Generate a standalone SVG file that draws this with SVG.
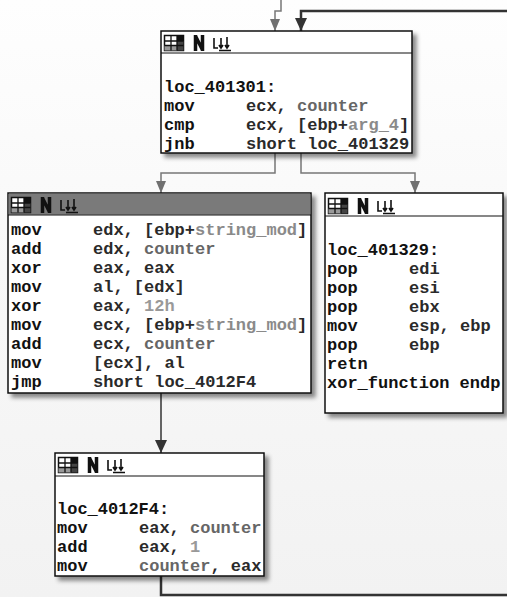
<svg xmlns="http://www.w3.org/2000/svg" width="507" height="597" viewBox="0 0 507 597">
<defs>
<linearGradient id="bg" x1="0" y1="0" x2="0" y2="1">
<stop offset="0" stop-color="#fefefe"/>
<stop offset="0.45" stop-color="#f8f8f8"/>
<stop offset="1" stop-color="#f2f2f2"/>
</linearGradient>
<filter id="sh" x="-10%" y="-10%" width="130%" height="130%">
<feDropShadow dx="4" dy="4" stdDeviation="2" flood-color="#000" flood-opacity="0.45"/>
</filter>
<marker id="ag" viewBox="0 0 10 12" refX="5" refY="12" markerWidth="10" markerHeight="12" markerUnits="userSpaceOnUse" orient="0">
<path d="M0,0 L10,0 L5,12 z" fill="#707070"/>
</marker>
<marker id="ad" viewBox="0 0 12 13" refX="6" refY="13" markerWidth="12" markerHeight="13" markerUnits="userSpaceOnUse" orient="0">
<path d="M0,0 L12,0 L6,13 z" fill="#333"/>
</marker>
<g id="icons">
<rect x="0.5" y="0.5" width="19" height="15" fill="#fff" stroke="#111" stroke-width="1.5"/>
<rect x="13" y="0.5" width="6.5" height="5.5" fill="#111"/>
<rect x="0.5" y="10.5" width="12.5" height="5" fill="#999"/>
<rect x="13" y="6" width="6.5" height="9.5" fill="#444"/>
<path d="M7,0.5 V15.5 M13,0.5 V15.5 M0.5,6 H19.5 M0.5,10.5 H19.5" stroke="#111" stroke-width="1.3" fill="none"/>
<path d="M31.5,0 V16 M31.5,1 L38.5,15 M38.5,0 V16" stroke="#111" stroke-width="3.5" fill="none"/>
<path d="M50,3 V13 H54 M57,3 V13 M55,10 L57,13 L59,10 M63,2 V13 M61,10 L63,13 L65,10 M55,15.5 H67" stroke="#111" stroke-width="1.6" fill="none"/>
</g>
</defs>
<style>
text{font-family:"Liberation Mono","DejaVu Sans Mono",monospace;font-size:17px;font-weight:bold;fill:#111}
.r{fill:#2a2a2a}
.n{fill:#666}
.v{fill:#8a8a8a}
.k{fill:#999}
.box{fill:#fff;stroke:#111;stroke-width:1.5}
.hl{stroke:#111;stroke-width:1.2}
.cg{fill:none;stroke:#777;stroke-width:1.5}
.cd{fill:none;stroke:#333;stroke-width:2.5}
.cd1{fill:none;stroke:#333;stroke-width:1.5}
</style>
<rect x="0" y="0" width="507" height="597" fill="url(#bg)"/>

<g id="connectors">
<path class="cg" d="M281,0 V11 H275 V31" marker-end="url(#ag)"/>
<path class="cd" d="M507,11 H301 V31" marker-end="url(#ad)"/>
<path class="cg" d="M275,153 V173 H161 V193" marker-end="url(#ag)"/>
<path class="cg" d="M301,153 V173 H415 V193" marker-end="url(#ag)"/>
<path class="cd1" d="M161,393 V453" marker-end="url(#ad)"/>
<path class="cd" d="M161,576 V595 H507"/>
</g>

<g id="loc_401301">
<rect class="box" x="161" y="31" width="251" height="122" filter="url(#sh)"/>
<line class="hl" x1="161" y1="53" x2="412" y2="53"/>
<use href="#icons" x="164" y="35"/>
<text x="164" y="92">loc_401301:</text>
<text x="164" y="111">mov<tspan x="246" class="r">ecx, </tspan><tspan class="n">counter</tspan></text>
<text x="164" y="130">cmp<tspan x="246" class="r">ecx, [ebp+</tspan><tspan class="v">arg_4</tspan><tspan class="r">]</tspan></text>
<text x="164" y="149">jnb<tspan x="246" class="r">short loc_401329</tspan></text>
</g>

<g id="loop_body">
<rect class="box" x="8" y="193" width="303" height="200" filter="url(#sh)"/>
<rect x="8.75" y="193.75" width="301.5" height="21" fill="#7a7a7a"/>
<line class="hl" x1="8" y1="215" x2="311" y2="215"/>
<use href="#icons" x="11" y="197"/>
<text x="11" y="235">mov<tspan x="93" class="r">edx, [ebp+</tspan><tspan class="v">string_mod</tspan><tspan class="r">]</tspan></text>
<text x="11" y="254">add<tspan x="93" class="r">edx, </tspan><tspan class="n">counter</tspan></text>
<text x="11" y="273">xor<tspan x="93" class="r">eax, eax</tspan></text>
<text x="11" y="292">mov<tspan x="93" class="r">al, [edx]</tspan></text>
<text x="11" y="311">xor<tspan x="93" class="r">eax, </tspan><tspan class="k">12h</tspan></text>
<text x="11" y="330">mov<tspan x="93" class="r">ecx, [ebp+</tspan><tspan class="v">string_mod</tspan><tspan class="r">]</tspan></text>
<text x="11" y="349">add<tspan x="93" class="r">ecx, </tspan><tspan class="n">counter</tspan></text>
<text x="11" y="368">mov<tspan x="93" class="r">[ecx], al</tspan></text>
<text x="11" y="387">jmp<tspan x="93" class="r">short loc_4012F4</tspan></text>
</g>

<g id="loc_401329">
<rect class="box" x="325" y="193" width="178" height="220" filter="url(#sh)"/>
<line class="hl" x1="325" y1="216" x2="503" y2="216"/>
<use href="#icons" x="328" y="198"/>
<text x="327" y="255">loc_401329:</text>
<text x="327" y="274">pop<tspan x="409" class="r">edi</tspan></text>
<text x="327" y="293">pop<tspan x="409" class="r">esi</tspan></text>
<text x="327" y="312">pop<tspan x="409" class="r">ebx</tspan></text>
<text x="327" y="331">mov<tspan x="409" class="r">esp, ebp</tspan></text>
<text x="327" y="350">pop<tspan x="409" class="r">ebp</tspan></text>
<text x="327" y="369">retn</text>
<text x="327" y="388">xor_function endp</text>
</g>

<g id="loc_4012F4">
<rect class="box" x="55" y="453" width="209" height="123" filter="url(#sh)"/>
<line class="hl" x1="55" y1="476" x2="264" y2="476"/>
<use href="#icons" x="58" y="457"/>
<text x="57" y="514">loc_4012F4:</text>
<text x="57" y="533">mov<tspan x="139" class="r">eax, </tspan><tspan class="n">counter</tspan></text>
<text x="57" y="552">add<tspan x="139" class="r">eax, </tspan><tspan class="k">1</tspan></text>
<text x="57" y="571">mov<tspan x="139" class="n">counter</tspan><tspan class="r">, eax</tspan></text>
</g>
</svg>
